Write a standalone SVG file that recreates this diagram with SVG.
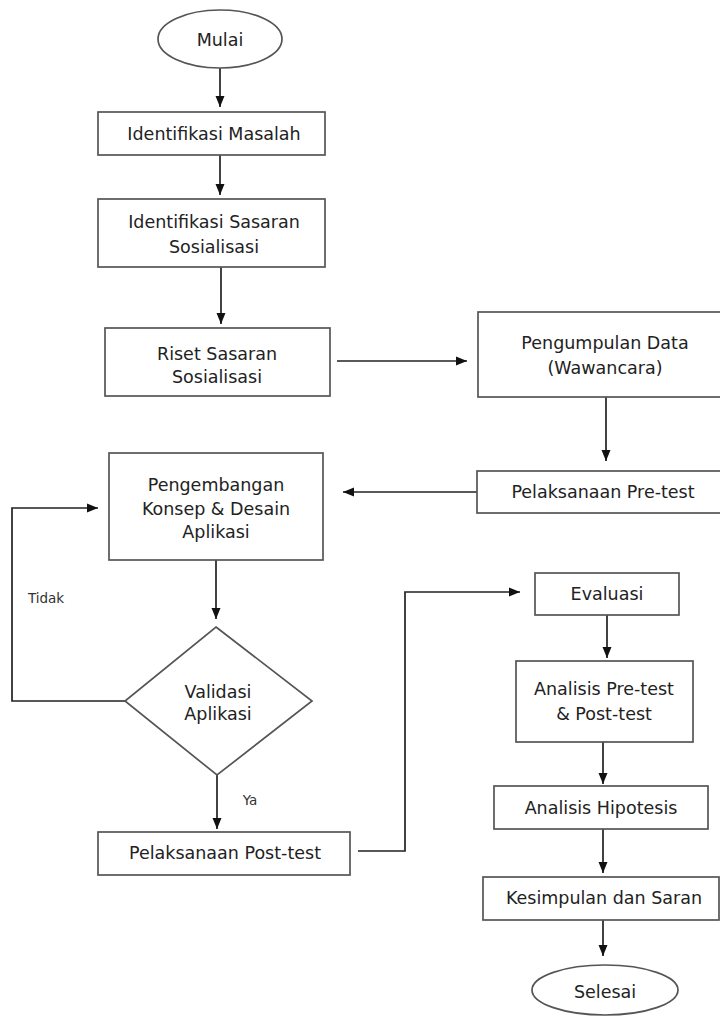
<svg xmlns="http://www.w3.org/2000/svg" width="720" height="1017" viewBox="0 0 720 1017">
<defs>
<marker id="ah" markerWidth="11" markerHeight="11" refX="11" refY="5.5" orient="auto" markerUnits="userSpaceOnUse">
<path d="M0,1 L11,5.5 L0,10 Z" fill="#111"/>
</marker>
<style>
.box{fill:#fff;stroke:#555;stroke-width:1.7}
.t{font-family:"DejaVu Sans",Verdana,sans-serif;font-size:17.5px;fill:#222;text-anchor:middle;dominant-baseline:central}
.s{font-family:"DejaVu Sans",Verdana,sans-serif;font-size:13.5px;fill:#333;text-anchor:middle;dominant-baseline:central}
.c{fill:none;stroke:#222;stroke-width:1.7}
.a{marker-end:url(#ah)}
</style>
</defs>
<rect width="720" height="1017" fill="#fff"/>
<g id="connectors">
<line class="c a" x1="220" y1="68" x2="220" y2="107"/>
<line class="c a" x1="220" y1="155" x2="220" y2="195"/>
<line class="c a" x1="221" y1="267" x2="221" y2="324"/>
<line class="c a" x1="337" y1="361" x2="467" y2="361"/>
<line class="c a" x1="606" y1="397" x2="606" y2="461"/>
<line class="c a" x1="477" y1="492" x2="343" y2="492"/>
<line class="c a" x1="216" y1="560" x2="216" y2="619"/>
<polyline class="c a" points="125,701 12,701 12,508 98,508"/>
<line class="c a" x1="217" y1="775" x2="217" y2="829"/>
<polyline class="c a" points="358,851 405,851 405,592 520,592"/>
<line class="c a" x1="607" y1="615" x2="607" y2="658"/>
<line class="c a" x1="603" y1="742" x2="603" y2="784"/>
<line class="c a" x1="603" y1="829" x2="603" y2="873"/>
<line class="c a" x1="603" y1="920" x2="603" y2="956"/>
<text class="s" x="46" y="598">Tidak</text>
<text class="s" x="250" y="800">Ya</text>
</g>
<g id="mulai"><ellipse class="box" cx="220" cy="39" rx="62" ry="29"/><text class="t" x="220" y="40">Mulai</text></g>
<g id="identifikasi-masalah"><rect class="box" x="98" y="112" width="227" height="43"/><text class="t" x="214" y="134">Identifikasi Masalah</text></g>
<g id="identifikasi-sasaran"><rect class="box" x="98" y="199" width="227" height="68"/><text class="t" x="214" y="222">Identifikasi Sasaran</text><text class="t" x="214" y="247">Sosialisasi</text></g>
<g id="riset"><rect class="box" x="105" y="328" width="225" height="68"/><text class="t" x="217" y="354">Riset Sasaran</text><text class="t" x="217" y="377">Sosialisasi</text></g>
<g id="pengumpulan"><rect class="box" x="478" y="312" width="260" height="85"/><text class="t" x="605" y="343">Pengumpulan Data</text><text class="t" x="605" y="368">(Wawancara)</text></g>
<g id="pretest"><rect class="box" x="477" y="471" width="260" height="42"/><text class="t" x="603" y="492">Pelaksanaan Pre-test</text></g>
<g id="pengembangan"><rect class="box" x="109" y="453" width="214" height="107"/><text class="t" x="216" y="485">Pengembangan</text><text class="t" x="216" y="509">Konsep &amp; Desain</text><text class="t" x="216" y="532">Aplikasi</text></g>
<g id="validasi"><polygon class="box" points="216,627 312,701 217,775 125,701"/><text class="t" x="218" y="692">Validasi</text><text class="t" x="218" y="714">Aplikasi</text></g>
<g id="posttest"><rect class="box" x="98" y="832" width="252" height="43"/><text class="t" x="225" y="853">Pelaksanaan Post-test</text></g>
<g id="evaluasi"><rect class="box" x="535" y="573" width="144" height="42"/><text class="t" x="607" y="594">Evaluasi</text></g>
<g id="analisis-pretest"><rect class="box" x="516" y="661" width="177" height="81"/><text class="t" x="604" y="689">Analisis Pre-test</text><text class="t" x="604" y="714">&amp; Post-test</text></g>
<g id="analisis-hipotesis"><rect class="box" x="494" y="786" width="214" height="43"/><text class="t" x="601" y="808">Analisis Hipotesis</text></g>
<g id="kesimpulan"><rect class="box" x="483" y="877" width="236" height="43"/><text class="t" x="604" y="898">Kesimpulan dan Saran</text></g>
<g id="selesai"><ellipse class="box" cx="605" cy="990" rx="73" ry="25"/><text class="t" x="605" y="992">Selesai</text></g>
</svg>
